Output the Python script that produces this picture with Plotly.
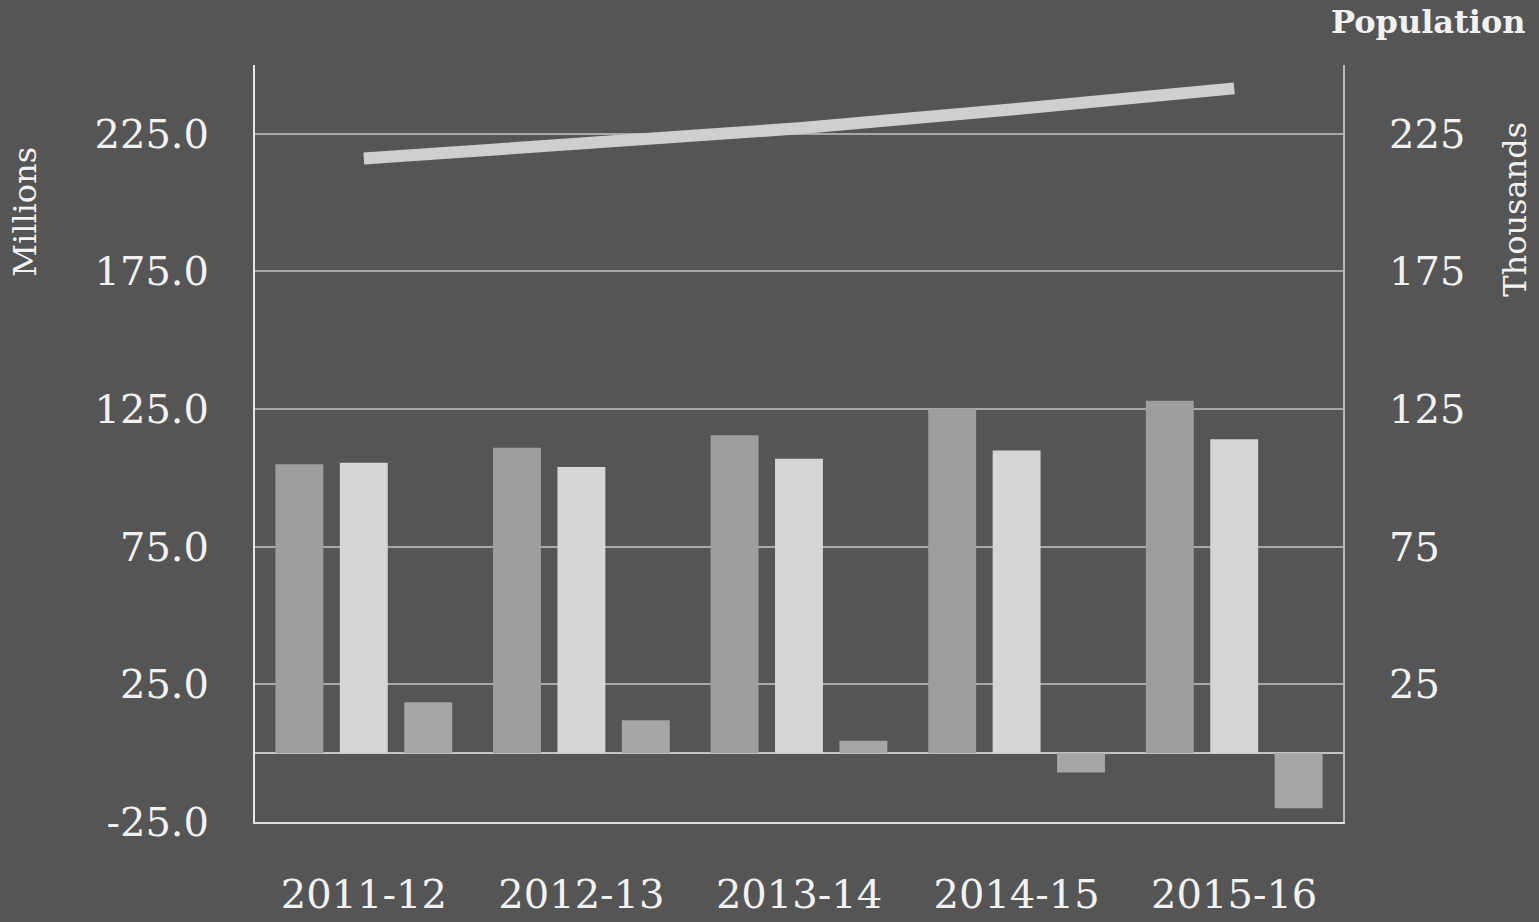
import plotly.graph_objects as go

categories = ["2011-12", "2012-13", "2013-14", "2014-15", "2015-16"]
series_a = [105.0, 111.0, 115.5, 125.0, 128.0]
series_b = [105.5, 104.0, 107.0, 110.0, 114.0]
series_c = [18.5, 12.0, 4.5, -7.0, -20.0]
population = [216.0, 221.5, 227.0, 234.0, 241.5]

left_ticks = [-25, 25, 75, 125, 175, 225]
left_labels = ["-25.0", "25.0", "75.0", "125.0", "175.0", "225.0"]
right_ticks = [25, 75, 125, 175, 225]
right_labels = ["25", "75", "125", "175", "225"]

BG = "#555555"
TICK_FONT = dict(family="DejaVu Serif", size=40, color="#f2f2f2")

fig = go.Figure()
fig.add_trace(go.Bar(x=categories, y=series_a, name="A",
                     marker=dict(color="#9e9e9e", line=dict(width=0))))
fig.add_trace(go.Bar(x=categories, y=series_b, name="B",
                     marker=dict(color="#d6d6d6", line=dict(width=0))))
fig.add_trace(go.Bar(x=categories, y=series_c, name="C",
                     marker=dict(color="#a6a6a6", line=dict(width=0))))
fig.add_trace(go.Scatter(x=categories, y=population, name="Population",
                         mode="lines", yaxis="y2",
                         line=dict(color="#cfcfcf", width=12)))

fig.update_layout(
    width=1539, height=922,
    paper_bgcolor=BG, plot_bgcolor=BG,
    margin=dict(l=255, r=196, t=65, b=100, autoexpand=False),
    showlegend=False,
    barmode="group", bargap=0.112, bargroupgap=0.256,
    xaxis=dict(
        type="category", tickangle=0,
        showgrid=False, showline=True, linecolor="#e0e0e0", linewidth=2,
        tickfont=TICK_FONT, ticks="", ticklabelstandoff=36,
    ),
    yaxis=dict(
        range=[-25, 250], tickvals=left_ticks, ticktext=left_labels,
        tickfont=TICK_FONT, showgrid=True, gridcolor="#a8a8a8", gridwidth=2,
        zeroline=True, zerolinecolor="#c4c4c4", zerolinewidth=2,
        showline=True, linecolor="#e8e8e8", linewidth=2,
        ticks="", ticklabelstandoff=36,
    ),
    yaxis2=dict(
        range=[-25, 250], tickvals=right_ticks, ticktext=right_labels,
        tickfont=TICK_FONT, overlaying="y", side="right", showgrid=False,
        zeroline=False, showline=True, linecolor="#b8b8b8", linewidth=2,
        ticks="", ticklabelstandoff=36,
    ),
    annotations=[
        dict(text="Millions", xref="paper", yref="paper", x=-0.2114, y=0.806,
             xanchor="center", yanchor="middle", textangle=-90, showarrow=False,
             font=dict(family="DejaVu Serif", size=32, color="#f2f2f2")),
        dict(text="Thousands", xref="paper", yref="paper", x=1.158, y=0.81,
             xanchor="center", yanchor="middle", textangle=-90, showarrow=False,
             font=dict(family="DejaVu Serif", size=32, color="#f2f2f2")),
        dict(text="<b>Population</b>", xref="paper", yref="paper", x=1.17, y=1.057,
             xanchor="right", yanchor="middle", showarrow=False,
             font=dict(family="DejaVu Serif", size=32, color="#f2f2f2")),
    ],
)

fig.write_html("out.html")
